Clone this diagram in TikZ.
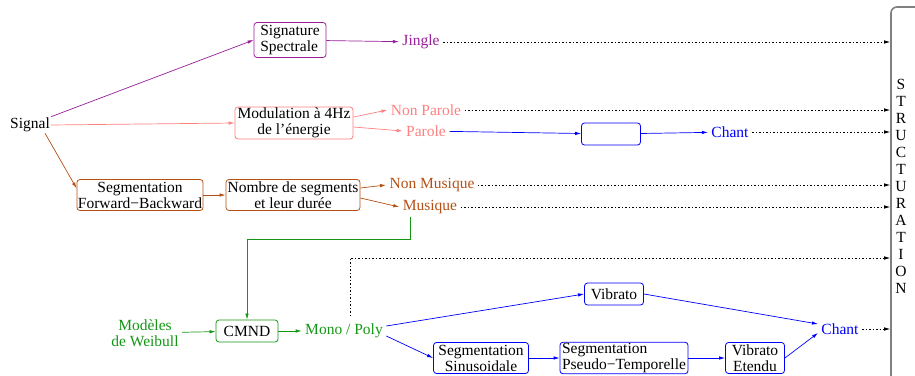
\documentclass[tikz,border=0pt]{standalone}
\usepackage{fontspec}
\setmainfont{Liberation Serif}
\usepackage{tikz}
\usetikzlibrary{arrows.meta}
\definecolor{jinglecol}{RGB}{153,30,153}
\definecolor{parolecol}{RGB}{255,128,128}
\definecolor{musiquecol}{RGB}{180,80,20}
\definecolor{weibullcol}{RGB}{20,150,20}
\definecolor{chantcol}{RGB}{0,0,255}
\tikzset{block/.style={draw,rounded corners=3pt,line width=0.8pt,inner sep=1pt,minimum height=22pt,align=center}}
\tikzset{flow/.style={->,line width=0.7pt}}
\tikzset{dotflow/.style={->,line width=0.7pt,dash pattern=on 1.5pt off 2pt}}

\begin{document}
\begin{tikzpicture}[x=1pt, y=-1pt, >={Latex[length=6pt,width=3.5pt]}, every node/.style={font=\fontsize{15.5}{16}\selectfont}]
\useasboundingbox (0,0) rectangle (915,375);
\clip (0,0) rectangle (915,375);

% structuration column
\node [draw=gray, line width=1.6pt, rounded corners=6pt, minimum width=50pt, minimum height=390pt] (struct) at (916,202) {};
\foreach \l [count=\i] in {S,T,R,U,C,T,U,R,A,T,I,O,N}
\node [inner sep=0pt] (letter-\i) at (901,67+17*\i) {\l};

\node [inner sep=1pt] (signal) at (30,125) {Signal};

% jingle
\node [block, draw=jinglecol, minimum width=72pt, minimum height=35pt, align=left] (sigspec) at (290,40) {Signature\\Spectrale};
\node [text=jinglecol] (jingle) at (421,42) {Jingle};
\draw [flow, jinglecol] (signal.north east) -- (sigspec.west);
\draw [flow, jinglecol] (sigspec) -- (jingle);

% parole
\node [block, draw=parolecol, minimum width=118pt, minimum height=32pt] (modul) at (294,123) {Modulation à 4Hz\\de l’énergie};
\node [text=parolecol] (nonparole) at (426,110) {Non Parole};
\node [text=parolecol] (parole) at (426,131) {Parole};
\draw [flow, parolecol] (signal.east) -- (modul.west);
\draw [flow, parolecol] ([yshift=6pt]modul.east) -- (nonparole.west);
\draw [flow, parolecol] ([yshift=-4pt]modul.east) -- (parole.west);

\node [block, draw=chantcol, minimum width=59pt] (chant-detect) at (611,134) {};
\node [text=chantcol] (chant-1) at (730,132) {Chant};
\draw [flow, chantcol] (parole) -- (chant-detect);
\draw [flow, chantcol] (chant-detect) -- (chant-1);

% musique
\node [block, draw=musiquecol, minimum width=123pt, minimum height=31pt] (segfb) at (140,195) {Segmentation\\Forward−Backward};
\node [block, draw=musiquecol, minimum width=134pt, minimum height=31pt] (nombre) at (293,195) {Nombre de segments\\et leur durée};
\node [text=musiquecol] (nonmusique) at (432,185) {Non Musique};
\node [text=musiquecol] (musique) at (430,207) {Musique};
\draw [flow, musiquecol] ([xshift=-6pt]signal.south east) -- (segfb.174);
\draw [flow, musiquecol] (segfb) -- (nombre);
\draw [flow, musiquecol] ([yshift=7pt]nombre.east) -- (nonmusique.west);
\draw [flow, musiquecol] ([yshift=-3pt]nombre.east) -- (musique.west);

% mono / poly
\node [block, draw=weibullcol, minimum width=62pt] (cmnd) at (247,331) {CMND};
\node [text=weibullcol, align=center] (weibull) at (145,333) {Modèles\\de Weibull};
\node [text=weibullcol] (mono) at (344,331) {Mono / Poly};
\coordinate (musique-turn) at (410,239);
\draw [flow, weibullcol] (musique.south -| musique-turn) -- (musique-turn) -| (cmnd.north);
\draw [flow, weibullcol] (weibull) -- (cmnd);
\draw [flow, weibullcol] (cmnd) -- (mono);

% chant
\node [block, draw=chantcol, minimum width=59pt] (vibrato) at (614,294) {Vibrato};
\node [block, draw=chantcol, minimum width=95pt, minimum height=31pt] (segsin) at (481,358) {Segmentation\\Sinusoidale};
\node [block, draw=chantcol, minimum width=128pt, minimum height=31pt, align=left] (segpt) at (624,358) {Segmentation\\Pseudo−Temporelle};
\node [block, draw=chantcol, minimum width=59pt, minimum height=31pt] (vibet) at (755,358) {Vibrato\\Etendu};
\node [text=chantcol] (chant-2) at (840,329) {Chant};
\draw [flow, chantcol] ([yshift=5pt]mono.east) -- (vibrato.west);
\draw [flow, chantcol] ([yshift=-5pt]mono.east) -- (segsin.west);
\draw [flow, chantcol] (segsin) -- (segpt);
\draw [flow, chantcol] (segpt) -- (vibet);
\draw [flow, chantcol] (vibrato.east) -- ([yshift=5pt]chant-2.west);
\draw [flow, chantcol] (vibet.east) -- ([yshift=-4pt]chant-2.west);

% vers la structuration
\foreach \n in {jingle,nonparole,chant-1,nonmusique,musique,chant-2}
\draw [dotflow] (\n.east) -- (\n.east -| struct.west);
\coordinate (poly-up) at (350,258);
\draw [dotflow] ([yshift=4pt]mono.north -| poly-up) -- (poly-up) -- (poly-up -| struct.west);
\end{tikzpicture}
\end{document}
